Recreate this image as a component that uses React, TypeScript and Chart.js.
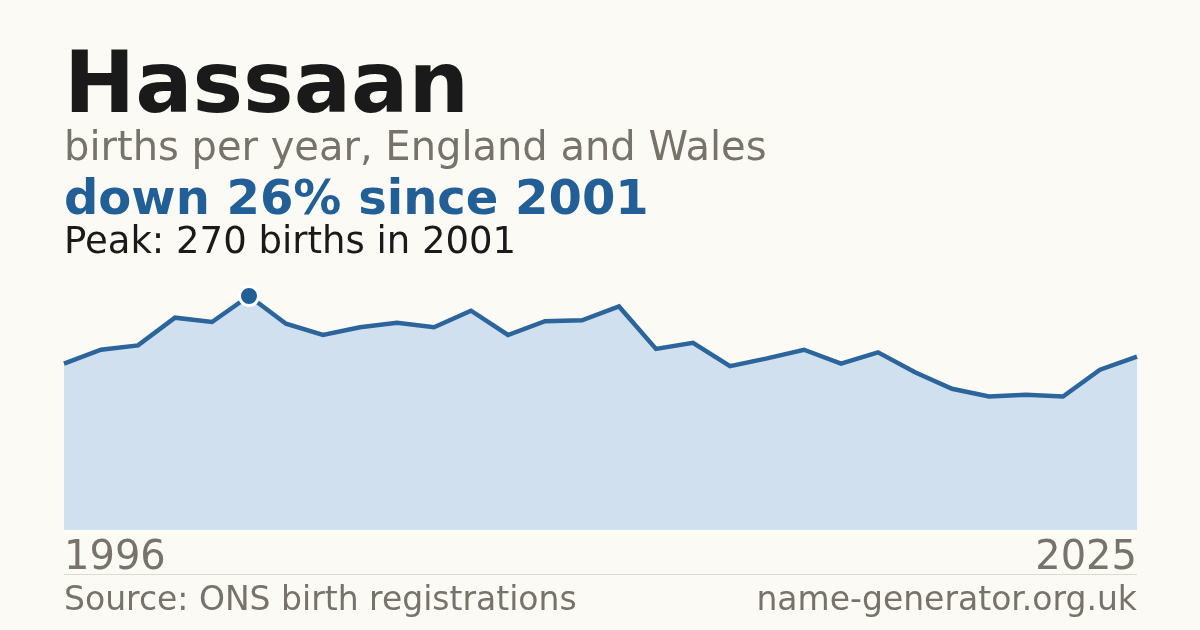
import React, { useEffect, useRef } from "react";
import { Chart, registerables } from "chart.js";

Chart.register(...registerables);

const years: string[] = [
  "1996", "1997", "1998", "1999", "2000", "2001", "2002", "2003", "2004", "2005",
  "2006", "2007", "2008", "2009", "2010", "2011", "2012", "2013", "2014", "2015",
  "2016", "2017", "2018", "2019", "2020", "2021", "2022", "2023", "2024", "2025",
];
const births: number[] = [
  192, 208, 213, 245, 240, 270, 238, 225, 234, 239,
  234, 253, 225, 241, 242, 258, 209, 216, 189, 198,
  208, 192, 205, 182, 163, 154, 156, 154, 185, 200,
];
const yMin = 0;
const yMax = 300;

const FONT = "'DejaVu Sans', sans-serif";
const GREY = "#77736b";
const DARK = "#1a1a1a";
const BLUE = "#215f96";

export default function App() {
  const ref = useRef<HTMLCanvasElement | null>(null);
  useEffect(() => {
    if (!ref.current) return;
    const peak = births.indexOf(Math.max(...births));
    const chart = new Chart(ref.current, {
      type: "line",
      data: {
        labels: years,
        datasets: [
          {
            data: births,
            borderColor: "#2b659c",
            borderWidth: 4.5,
            backgroundColor: "#d0e0ef",
            fill: "origin",
            tension: 0,
            pointRadius: (c: any) => (c.dataIndex === peak ? 9.5 : 0),
            pointBackgroundColor: BLUE,
            pointBorderColor: "#ffffff",
            pointBorderWidth: 3,
            pointHoverRadius: 0,
          },
        ],
      },
      options: {
        animation: false,
        responsive: false,
        events: [],
        layout: { padding: { left: 64, right: 63, top: 270, bottom: 0 } },
        plugins: { legend: { display: false }, tooltip: { enabled: false } },
        scales: {
          x: {
            grid: { display: false },
            border: { display: false },
            afterFit: (s: any) => {
              s.height = 70;
            },
            ticks: {
              autoSkip: false,
              maxRotation: 0,
              minRotation: 0,
              align: "inner",
              padding: -3,
              color: GREY,
              font: { family: FONT, size: 40 },
              callback: (_v: any, i: number, t: any[]) =>
                i === 0 || i === t.length - 1 ? years[i] : "",
            },
          },
          y: {
            display: false,
            min: yMin,
            max: yMax,
          },
        },
      },
    });
    return () => chart.destroy();
  }, []);

  const txt = (top: number, size: number, color: string, bold: boolean): React.CSSProperties => ({
    position: "absolute",
    left: 64,
    top,
    fontFamily: FONT,
    fontSize: size,
    lineHeight: `${size}px`,
    fontWeight: bold ? 700 : 400,
    color,
    whiteSpace: "nowrap",
    zIndex: 2,
  });

  return (
    <div
      style={{
        position: "absolute",
        left: 0,
        top: 0,
        width: 1200,
        height: 630,
        background: "#fbfaf5",
        overflow: "hidden",
      }}
    >
      <canvas
        ref={ref}
        width={1200}
        height={600}
        style={{ position: "absolute", left: 0, top: 0, width: 1200, height: 600 }}
      />
      <div style={txt(40, 85, DARK, true)}>Hassaan</div>
      <div style={txt(126, 40, GREY, false)}>births per year, England and Wales</div>
      <div style={txt(173, 48, BLUE, true)}>down 26% since 2001</div>
      <div style={txt(222, 37, DARK, false)}>Peak: 270 births in 2001</div>
      <div
        style={{
          position: "absolute",
          left: 64,
          top: 574,
          width: 1073,
          height: 0,
          borderTop: "1px solid #dcdad4",
        }}
      />
      <div style={txt(582, 33, GREY, false)}>Source: ONS birth registrations</div>
      <div style={{ ...txt(582, 33, GREY, false), left: "auto", right: 63 }}>name-generator.org.uk</div>
    </div>
  );
}
